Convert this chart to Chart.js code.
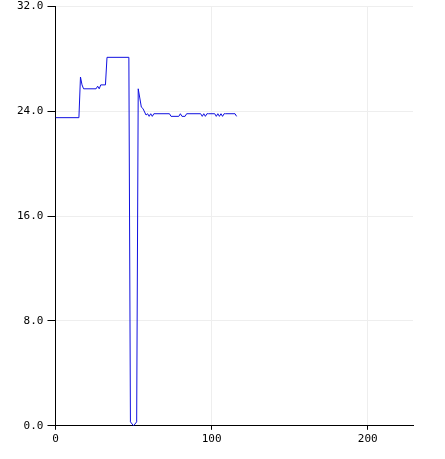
<!DOCTYPE html>
<html>
<head>
    <meta charset="UTF-8">
    <title>Line chart</title>
    <script src="https://cdn.jsdelivr.net/npm/chart.js"></script>
    <style>
        body { margin: 0; background: #fff; }
        canvas { display: block; }
    </style>
</head>
<body>
    <canvas id="lineChart" width="445" height="459"></canvas>
    <script>
        // x positions where the line turns, and the value at each one
        const xValues = [0, 15, 16, 17, 18, 26, 27, 28, 29, 32, 33, 47, 48, 50, 52, 53, 54, 55, 56, 58,
            59, 60, 61, 62, 63, 73, 74, 79, 80, 81, 83, 84, 93, 94, 95, 96, 97, 98, 102,
            103, 104, 105, 106, 107, 108, 109, 115, 116];
        const yValues = [23.5, 23.5, 26.6, 26.0, 25.7, 25.7, 25.9, 25.7, 26.0, 26.0, 28.1, 28.1, 0.3, 0.0, 0.3, 25.7, 25.0, 24.3, 24.2, 23.7,
            23.8, 23.6, 23.8, 23.6, 23.8, 23.8, 23.6, 23.6, 23.8, 23.6, 23.6, 23.8, 23.8, 23.6, 23.8, 23.6, 23.8, 23.8, 23.8,
            23.6, 23.8, 23.6, 23.8, 23.6, 23.8, 23.8, 23.8, 23.6];

        const xMax = 229;
        const xTicks = [0, 100, 200];
        const yTicks = [0, 8, 16, 24, 32];

        const points = xValues.map((x, i) => ({ x: x, y: yValues[i] }));

        new Chart(document.getElementById('lineChart').getContext('2d'), {
            type: 'line',
            data: {
                datasets: [{
                    data: points,
                    borderColor: '#1010e0',
                    borderWidth: 1,
                    pointRadius: 0,
                    tension: 0,
                    fill: false
                }]
            },
            options: {
                responsive: false,
                animation: false,
                layout: { padding: { left: 13, right: 32, top: 0, bottom: 10 } },
                plugins: { legend: { display: false }, tooltip: { enabled: false } },
                scales: {
                    x: {
                        type: 'linear',
                        min: 0,
                        max: xMax,
                        border: { color: '#000', width: 1 },
                        grid: { color: '#eeeeee', tickColor: '#000', tickLength: 4 },
                        afterBuildTicks: s => { s.ticks = xTicks.map(v => ({ value: v })); },
                        ticks: {
                            color: '#000',
                            font: { family: 'DejaVu Sans Mono', size: 11 },
                            padding: 3,
                            maxRotation: 0
                        }
                    },
                    y: {
                        min: yTicks[0],
                        max: yTicks[yTicks.length - 1],
                        border: { color: '#000', width: 1 },
                        grid: { color: '#eeeeee', tickColor: '#000', tickLength: 8 },
                        afterBuildTicks: s => { s.ticks = yTicks.map(v => ({ value: v })); },
                        ticks: {
                            color: '#000',
                            // small line height so the top label does not push the plot down
                            font: { family: 'DejaVu Sans Mono', size: 11, lineHeight: 0.4 },
                            padding: 4,
                            callback: v => v.toFixed(1)
                        }
                    }
                }
            }
        });
    </script>
</body>
</html>
